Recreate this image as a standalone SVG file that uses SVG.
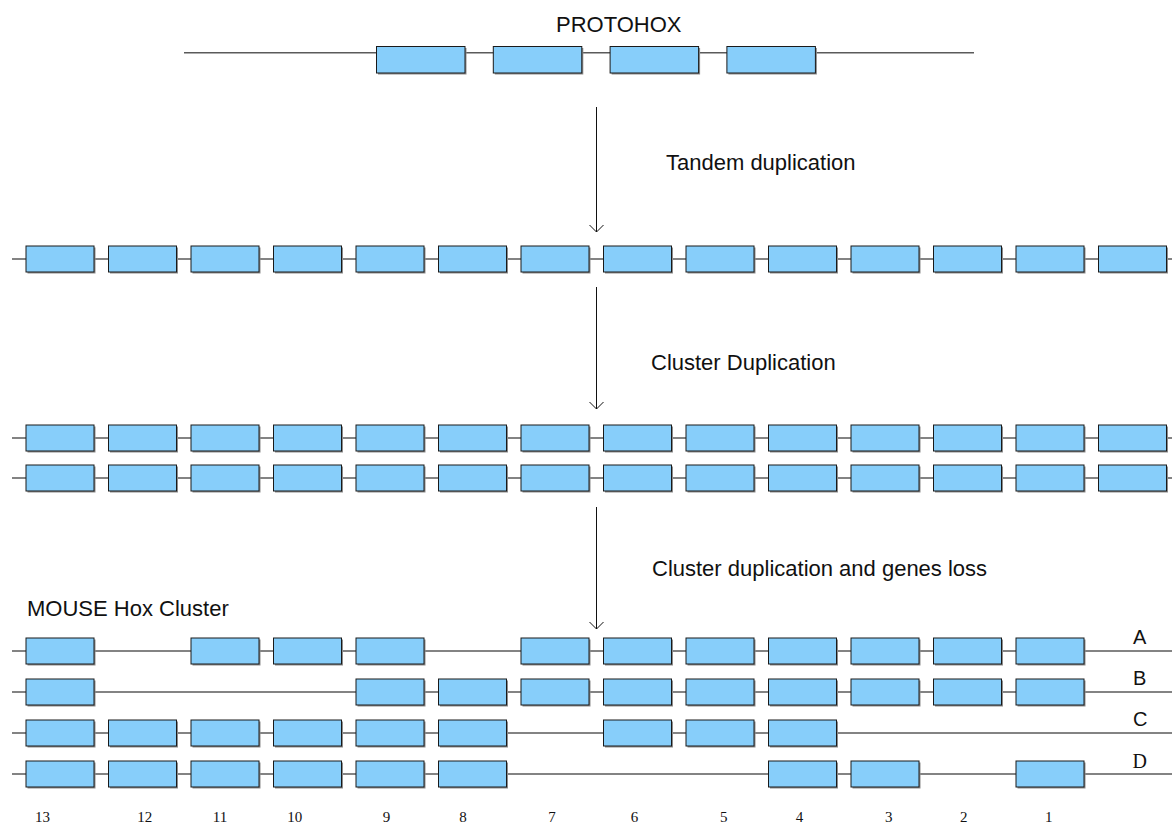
<svg xmlns="http://www.w3.org/2000/svg" xmlns:xlink="http://www.w3.org/1999/xlink" width="1172" height="825" viewBox="0 0 1172 825">
<style>
.dna{stroke:#5a5a5a;stroke-width:1.4;fill:none}
.arr{stroke:#111;stroke-width:1;fill:none}
.lbl{font-family:"Liberation Sans",Arial,sans-serif;font-size:22px;fill:#111}
.let{font-family:"Liberation Sans",Arial,sans-serif;font-size:20px;fill:#111}
.serif{font-family:"Liberation Serif","Times New Roman",serif;fill:#111}
.num{font-family:"Liberation Serif","Times New Roman",serif;font-size:15px;fill:#111}
</style>
<defs>
<g id="gene"><rect x="1.5" y="1.5" width="68" height="26" fill="#8c8c8c"/><rect x="0" y="0" width="68" height="26" fill="#87cefa" stroke="#1a1a1a" stroke-width="1"/></g>
<g id="pgene"><rect x="1.5" y="1.5" width="88.5" height="26.5" fill="#8c8c8c"/><rect x="0" y="0" width="88.5" height="26.5" fill="#87cefa" stroke="#1a1a1a" stroke-width="1"/></g>
<marker id="open" markerUnits="userSpaceOnUse" viewBox="-8 -8 16 16" markerWidth="16" markerHeight="16" refX="0" refY="0" orient="auto" overflow="visible"><path d="M-7,-7 L0,0 L-7,7" fill="none" stroke="#111" stroke-width="1"/></marker>
</defs>
<rect width="1172" height="825" fill="#fff"/>
<g id="connectors">
<line class="dna" x1="184" y1="52.7" x2="974" y2="52.7"/>
<line class="dna" x1="12" y1="259" x2="1172" y2="259"/>
<line class="dna" x1="12" y1="438" x2="1172" y2="438"/>
<line class="dna" x1="12" y1="478" x2="1172" y2="478"/>
<line class="dna" x1="12" y1="651" x2="1172" y2="651"/>
<line class="dna" x1="12" y1="692" x2="1172" y2="692"/>
<line class="dna" x1="12" y1="733" x2="1172" y2="733"/>
<line class="dna" x1="12" y1="774" x2="1172" y2="774"/>
<line class="arr" x1="596.5" y1="107" x2="596.5" y2="232" marker-end="url(#open)"/>
<line class="arr" x1="596.5" y1="287" x2="596.5" y2="409" marker-end="url(#open)"/>
<line class="arr" x1="596.5" y1="507" x2="596.5" y2="629" marker-end="url(#open)"/>
</g>
<g id="protohox">
<g id="p1"><use xlink:href="#pgene" x="376.5" y="46.5"/></g>
<g id="p2"><use xlink:href="#pgene" x="493.3" y="46.5"/></g>
<g id="p3"><use xlink:href="#pgene" x="610.1" y="46.5"/></g>
<g id="p4"><use xlink:href="#pgene" x="726.9" y="46.5"/></g>
</g>
<g id="tandem">
<g id="t0"><use xlink:href="#gene" x="26" y="246"/></g>
<g id="t1"><use xlink:href="#gene" x="108.5" y="246"/></g>
<g id="t2"><use xlink:href="#gene" x="191" y="246"/></g>
<g id="t3"><use xlink:href="#gene" x="273.5" y="246"/></g>
<g id="t4"><use xlink:href="#gene" x="356" y="246"/></g>
<g id="t5"><use xlink:href="#gene" x="438.5" y="246"/></g>
<g id="t6"><use xlink:href="#gene" x="521" y="246"/></g>
<g id="t7"><use xlink:href="#gene" x="603.5" y="246"/></g>
<g id="t8"><use xlink:href="#gene" x="686" y="246"/></g>
<g id="t9"><use xlink:href="#gene" x="768.5" y="246"/></g>
<g id="t10"><use xlink:href="#gene" x="851" y="246"/></g>
<g id="t11"><use xlink:href="#gene" x="933.5" y="246"/></g>
<g id="t12"><use xlink:href="#gene" x="1016" y="246"/></g>
<g id="t13"><use xlink:href="#gene" x="1098.5" y="246"/></g>
</g>
<g id="dup1">
<g id="d1-0"><use xlink:href="#gene" x="26" y="425"/></g>
<g id="d1-1"><use xlink:href="#gene" x="108.5" y="425"/></g>
<g id="d1-2"><use xlink:href="#gene" x="191" y="425"/></g>
<g id="d1-3"><use xlink:href="#gene" x="273.5" y="425"/></g>
<g id="d1-4"><use xlink:href="#gene" x="356" y="425"/></g>
<g id="d1-5"><use xlink:href="#gene" x="438.5" y="425"/></g>
<g id="d1-6"><use xlink:href="#gene" x="521" y="425"/></g>
<g id="d1-7"><use xlink:href="#gene" x="603.5" y="425"/></g>
<g id="d1-8"><use xlink:href="#gene" x="686" y="425"/></g>
<g id="d1-9"><use xlink:href="#gene" x="768.5" y="425"/></g>
<g id="d1-10"><use xlink:href="#gene" x="851" y="425"/></g>
<g id="d1-11"><use xlink:href="#gene" x="933.5" y="425"/></g>
<g id="d1-12"><use xlink:href="#gene" x="1016" y="425"/></g>
<g id="d1-13"><use xlink:href="#gene" x="1098.5" y="425"/></g>
</g>
<g id="dup2">
<g id="d2-0"><use xlink:href="#gene" x="26" y="465"/></g>
<g id="d2-1"><use xlink:href="#gene" x="108.5" y="465"/></g>
<g id="d2-2"><use xlink:href="#gene" x="191" y="465"/></g>
<g id="d2-3"><use xlink:href="#gene" x="273.5" y="465"/></g>
<g id="d2-4"><use xlink:href="#gene" x="356" y="465"/></g>
<g id="d2-5"><use xlink:href="#gene" x="438.5" y="465"/></g>
<g id="d2-6"><use xlink:href="#gene" x="521" y="465"/></g>
<g id="d2-7"><use xlink:href="#gene" x="603.5" y="465"/></g>
<g id="d2-8"><use xlink:href="#gene" x="686" y="465"/></g>
<g id="d2-9"><use xlink:href="#gene" x="768.5" y="465"/></g>
<g id="d2-10"><use xlink:href="#gene" x="851" y="465"/></g>
<g id="d2-11"><use xlink:href="#gene" x="933.5" y="465"/></g>
<g id="d2-12"><use xlink:href="#gene" x="1016" y="465"/></g>
<g id="d2-13"><use xlink:href="#gene" x="1098.5" y="465"/></g>
</g>
<g id="clusterA">
<g id="A13"><use xlink:href="#gene" x="26" y="638"/></g>
<g id="A11"><use xlink:href="#gene" x="191" y="638"/></g>
<g id="A10"><use xlink:href="#gene" x="273.5" y="638"/></g>
<g id="A9"><use xlink:href="#gene" x="356" y="638"/></g>
<g id="A7"><use xlink:href="#gene" x="521" y="638"/></g>
<g id="A6"><use xlink:href="#gene" x="603.5" y="638"/></g>
<g id="A5"><use xlink:href="#gene" x="686" y="638"/></g>
<g id="A4"><use xlink:href="#gene" x="768.5" y="638"/></g>
<g id="A3"><use xlink:href="#gene" x="851" y="638"/></g>
<g id="A2"><use xlink:href="#gene" x="933.5" y="638"/></g>
<g id="A1"><use xlink:href="#gene" x="1016" y="638"/></g>
</g>
<g id="clusterB">
<g id="B13"><use xlink:href="#gene" x="26" y="679"/></g>
<g id="B9"><use xlink:href="#gene" x="356" y="679"/></g>
<g id="B8"><use xlink:href="#gene" x="438.5" y="679"/></g>
<g id="B7"><use xlink:href="#gene" x="521" y="679"/></g>
<g id="B6"><use xlink:href="#gene" x="603.5" y="679"/></g>
<g id="B5"><use xlink:href="#gene" x="686" y="679"/></g>
<g id="B4"><use xlink:href="#gene" x="768.5" y="679"/></g>
<g id="B3"><use xlink:href="#gene" x="851" y="679"/></g>
<g id="B2"><use xlink:href="#gene" x="933.5" y="679"/></g>
<g id="B1"><use xlink:href="#gene" x="1016" y="679"/></g>
</g>
<g id="clusterC">
<g id="C13"><use xlink:href="#gene" x="26" y="720"/></g>
<g id="C12"><use xlink:href="#gene" x="108.5" y="720"/></g>
<g id="C11"><use xlink:href="#gene" x="191" y="720"/></g>
<g id="C10"><use xlink:href="#gene" x="273.5" y="720"/></g>
<g id="C9"><use xlink:href="#gene" x="356" y="720"/></g>
<g id="C8"><use xlink:href="#gene" x="438.5" y="720"/></g>
<g id="C6"><use xlink:href="#gene" x="603.5" y="720"/></g>
<g id="C5"><use xlink:href="#gene" x="686" y="720"/></g>
<g id="C4"><use xlink:href="#gene" x="768.5" y="720"/></g>
</g>
<g id="clusterD">
<g id="D13"><use xlink:href="#gene" x="26" y="761"/></g>
<g id="D12"><use xlink:href="#gene" x="108.5" y="761"/></g>
<g id="D11"><use xlink:href="#gene" x="191" y="761"/></g>
<g id="D10"><use xlink:href="#gene" x="273.5" y="761"/></g>
<g id="D9"><use xlink:href="#gene" x="356" y="761"/></g>
<g id="D8"><use xlink:href="#gene" x="438.5" y="761"/></g>
<g id="D4"><use xlink:href="#gene" x="768.5" y="761"/></g>
<g id="D3"><use xlink:href="#gene" x="851" y="761"/></g>
<g id="D1"><use xlink:href="#gene" x="1016" y="761"/></g>
</g>
<g id="labels">
<text class="lbl" x="556" y="32">PROTOHOX</text>
<text class="lbl" x="666" y="170">Tandem duplication</text>
<text class="lbl" x="651" y="370">Cluster Duplication</text>
<text class="lbl" x="652" y="576">Cluster duplication and genes loss</text>
<text class="lbl" x="27" y="616">MOUSE Hox Cluster</text>
<text class="let" x="1133" y="643.5">A</text>
<text class="let" x="1133" y="684.5">B</text>
<text class="let" x="1133" y="726">C</text>
<text class="serif" x="1132.5" y="767.5" font-size="20">D</text>
</g>
<g id="numbers">
<text class="num" x="35" y="822">13</text>
<text class="num" x="137.3" y="822">12</text>
<text class="num" x="212.7" y="822">11</text>
<text class="num" x="287.3" y="822">10</text>
<text class="num" x="382.7" y="822">9</text>
<text class="num" x="459.3" y="822">8</text>
<text class="num" x="548.3" y="822">7</text>
<text class="num" x="630.7" y="822">6</text>
<text class="num" x="720" y="822">5</text>
<text class="num" x="795.7" y="822">4</text>
<text class="num" x="885" y="822">3</text>
<text class="num" x="960" y="822">2</text>
<text class="num" x="1045" y="822">1</text>
</g>
</svg>
